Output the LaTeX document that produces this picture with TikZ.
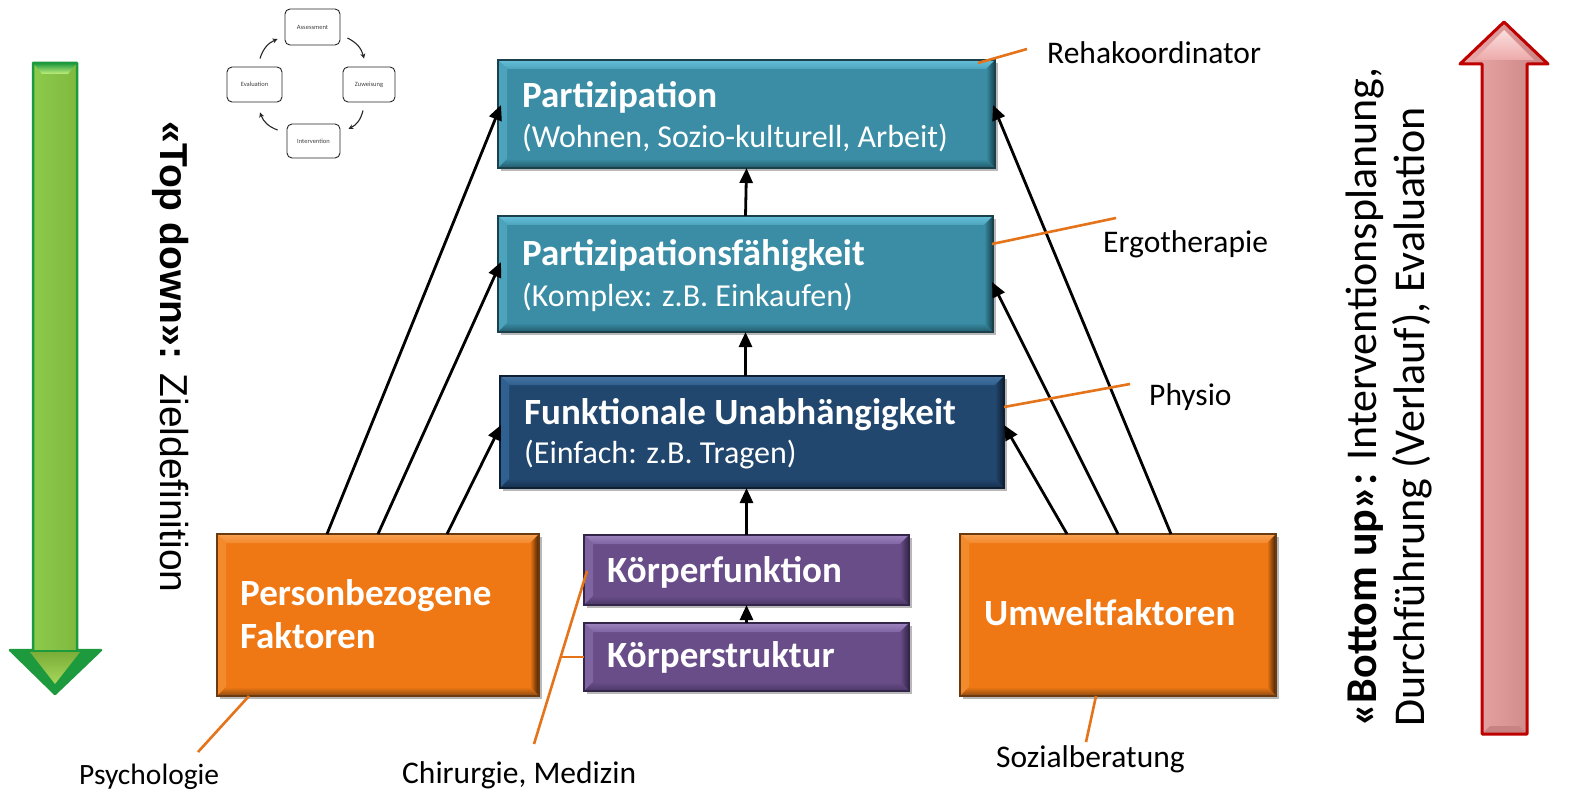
\documentclass[tikz,border=0pt]{standalone}
\usepackage{fontspec}
\setmainfont{Carlito}
\newfontfamily\arialfont{Liberation Sans}
\usetikzlibrary{arrows.meta,calc}

% box colours: face, top bevel, left bevel, right bevel, bottom bevel, outline
\definecolor{tealface}{HTML}{3A8DA5}\definecolor{tealtop}{HTML}{66C0DA}
\definecolor{tealleft}{HTML}{4CA3BC}\definecolor{tealright}{HTML}{17404D}
\definecolor{tealbot}{HTML}{215968}\definecolor{tealline}{HTML}{1B3F4B}
\definecolor{navyface}{HTML}{22476E}\definecolor{navytop}{HTML}{4674A3}
\definecolor{navyleft}{HTML}{30608F}\definecolor{navyright}{HTML}{0D1E31}
\definecolor{navybot}{HTML}{152F4C}\definecolor{navyline}{HTML}{0E1F33}
\definecolor{purpface}{HTML}{694D89}\definecolor{purptop}{HTML}{9D84BE}
\definecolor{purpleft}{HTML}{7F64A2}\definecolor{purpright}{HTML}{33254A}
\definecolor{purpbot}{HTML}{4A3766}\definecolor{purpline}{HTML}{33264A}
\definecolor{orngface}{HTML}{F07814}\definecolor{orngtop}{HTML}{F9A050}
\definecolor{orngleft}{HTML}{F38A2C}\definecolor{orngright}{HTML}{3E1F06}
\definecolor{orngbot}{HTML}{8A4A10}\definecolor{orngline}{HTML}{6A3A10}
\definecolor{leadc}{HTML}{E5731A}
% block arrow colours
\definecolor{gdark}{HTML}{1E9A3E}\definecolor{gleft}{HTML}{92D552}
\definecolor{gmid}{HTML}{C4EF7C}\definecolor{gright}{HTML}{7AAE38}
\definecolor{ghead}{HTML}{A8D65A}
\definecolor{rdark}{HTML}{BE0000}\definecolor{rleft}{HTML}{EDAAAA}
\definecolor{rmid}{HTML}{F8C8C8}\definecolor{rright}{HTML}{C98282}

\newcommand\ttlfont{\bfseries\fontsize{37}{44}\selectfont}
\newcommand\subtfont{\fontsize{32}{36}\selectfont}
\newcommand\lblfont{\fontsize{31.5}{36}\selectfont}

\tikzset{
  boxnode/.style={rectangle, inner sep=0pt, outer sep=0pt, anchor=north west},
  conn/.style={line width=2.8pt, black, -{Triangle[length=15pt,width=13pt]}},
  leader/.style={line width=2.6pt, leadc},
  lbl/.style={font=\lblfont, inner sep=0pt, anchor=west, text=black},
  ttl/.style={font=\ttlfont, text=white, inner sep=0pt, anchor=base west},
  subt/.style={font=\subtfont, text=white, inner sep=0pt, anchor=base west},
  cycbox/.style={draw=black!85, line width=0.9pt, rounded corners=5pt,
    inner sep=0pt, font=\fontsize{6.5}{7}\selectfont, text=black!75},
  cycarr/.style={line width=1.1pt, black!85, -{Stealth[length=5pt,width=5pt]}, bend left=25}
}

% bevelled box: name, x, y (top left), width, height, colour prefix
\newcommand\bvbox[6]{%
  \fill[black, opacity=.28] ($(#2,#3)+(3,3)$) rectangle ++(#4,#5);
  \node[boxnode, minimum width=#4, minimum height=#5] (#1) at (#2,#3) {};
  \fill[#6face] (#1.north west) rectangle (#1.south east);
  \shade[top color=#6top, bottom color=#6left] (#1.north west) -- (#1.north east)
     -- ($(#1.north east)+(-9,9)$) -- ($(#1.north west)+(9,9)$) -- cycle;
  \fill[#6left] (#1.north west) -- ($(#1.north west)+(9,9)$)
     -- ($(#1.south west)+(9,-9)$) -- (#1.south west) -- cycle;
  \shade[left color=#6face, right color=#6right] (#1.north east) -- ($(#1.north east)+(-9,9)$)
     -- ($(#1.south east)+(-9,-9)$) -- (#1.south east) -- cycle;
  \shade[top color=#6face, bottom color=#6bot] (#1.south west) -- ($(#1.south west)+(9,-9)$)
     -- ($(#1.south east)+(-9,-9)$) -- (#1.south east) -- cycle;
  \draw[#6line, line width=1.2pt] (#1.north west) rectangle (#1.south east);
}

\begin{document}
\begin{tikzpicture}[x=1pt, y=-1pt]
\useasboundingbox[fill=white] (0,0) rectangle (1594,791);

% ---- vertical block arrows ----
\shade[left color=gleft, middle color=gmid, right color=gright]
  (33,63) -- (77,63) -- (77,650) -- (101,650) -- (55,694) -- (10,650) -- (33,650) -- cycle;
\fill[gdark] (10,650) -- (101,650) -- (55,694) -- cycle;
\shade[top color=gright, bottom color=ghead] (30,652) -- (80,652) -- (55,684) -- cycle;
\shade[top color=gdark, bottom color=gmid] (33,63) -- (77,63) -- (68,74) -- (42,74) -- cycle;
\draw[gdark, line width=2.5pt, line join=round]
  (33,63) -- (77,63) -- (77,650) -- (101,650) -- (55,694) -- (10,650) -- (33,650) -- cycle;

\shade[left color=rleft, middle color=rmid, right color=rright]
  (1482,734) -- (1527,734) -- (1527,64) -- (1548,64) -- (1504,22) -- (1460,64) -- (1482,64) -- cycle;
\shade[top color=rmid!60!white, bottom color=rleft] (1504,30) -- (1534,60) -- (1474,60) -- cycle;
\fill[rright] (1482,734) -- (1527,734) -- (1519,726) -- (1490,726) -- cycle;
\draw[rdark, line width=3pt, line join=round]
  (1482,734) -- (1527,734) -- (1527,64) -- (1548,64) -- (1504,22) -- (1460,64) -- (1482,64) -- cycle;

% ---- small cycle ----
\node[cycbox, minimum width=55pt, minimum height=36pt] (ass) at (312.5,27) {Assessment};
\node[cycbox, minimum width=52pt, minimum height=35pt] (zuw) at (369,84.5) {Zuweisung};
\node[cycbox, minimum width=53pt, minimum height=34pt] (int) at (313.5,141) {Intervention};
\node[cycbox, minimum width=55pt, minimum height=35pt] (eva) at (254.5,84.5) {Evaluation};
\draw[cycarr] ($(ass.east)+(7,11)$) to ($(zuw.north)+(-5,-8)$);
\draw[cycarr] ($(zuw.south)+(-6,8)$) to ($(int.east)+(8,-12)$);
\draw[cycarr] ($(int.west)+(-9,-11)$) to ($(eva.south)+(5.5,10)$);
\draw[cycarr] ($(eva.north)+(5.5,-8)$) to ($(ass.west)+(-7,12)$);

% ---- boxes ----
\bvbox{part}{498}{60}{497}{108}{teal}
\bvbox{pf}{498}{216}{495}{116}{teal}
\bvbox{fu}{500}{376}{504}{112}{navy}
\bvbox{kf}{584}{535}{325}{70}{purp}
\bvbox{ks}{584}{623}{325}{68}{purp}
\bvbox{pers}{217}{534}{322}{162}{orng}
\bvbox{umw}{960}{534}{316}{162}{orng}

\node[ttl] (part-t) at ($(part.north west)+(24,48)$) {Partizipation};
\node[subt] (part-s) at ($(part.north west)+(24,88)$) {(Wohnen, Sozio-kulturell, Arbeit)};
\node[ttl] (pf-t) at ($(pf.north west)+(24,50)$) {Partizipationsfähigkeit};
\node[subt] (pf-s) at ($(pf.north west)+(24,90)$) {(Komplex: z.B. Einkaufen)};
\node[ttl] (fu-t) at ($(fu.north west)+(24,48)$) {Funktionale Unabhängigkeit};
\node[subt] (fu-s) at ($(fu.north west)+(24,87)$) {(Einfach: z.B. Tragen)};
\node[ttl] (kf-t) at ($(kf.north west)+(23,47)$) {Körperfunktion};
\node[ttl] (ks-t) at ($(ks.north west)+(23,44)$) {Körperstruktur};
\node[ttl] (pers-t1) at ($(pers.north west)+(23,71)$) {Personbezogene};
\node[ttl] (pers-t2) at ($(pers.north west)+(23,114)$) {Faktoren};
\node[ttl] (umw-t) at ($(umw.north west)+(24,91)$) {Umweltfaktoren};

% ---- connectors ----
\draw[conn] (pf.north) -- (part.south);
\draw[conn] (fu.north -| pf.south) -- (pf.south);
\draw[conn] (kf.north) -- (kf.north |- fu.south);
\draw[conn] (ks.north) -- (kf.south);
\draw[conn] ($(pers.north west)+(110,0)$) -- ($(part.west)+(3,-9)$);
\draw[conn] ($(pers.north west)+(161,0)$) -- ($(pf.west)+(3,-12)$);
\draw[conn] ($(pers.north west)+(230,0)$) -- ($(fu.west)+(1,-7)$);
\draw[conn] ($(umw.north west)+(107,0)$) -- ($(fu.east)+(0,-7)$);
\draw[conn] ($(umw.north west)+(158,0)$) -- ($(pf.east)+(-1,8)$);
\draw[conn] ($(umw.north west)+(211,0)$) -- ($(part.east)+(-2,-9)$);

% ---- professions ----
\node[lbl] (reha) at (1047,53) {Rehakoordinator};
\node[lbl] (ergo) at (1103,244) {Ergotherapie};
\node[lbl] (phys) at (1149,397) {Physio};
\node[lbl, font=\fontsize{29.5}{34}\selectfont] (psy) at (79,777) {Psychologie};
\node[lbl] (chir) at (402,775) {Chirurgie, Medizin};
\node[lbl] (soz) at (996,759) {Sozialberatung};

\draw[leader] ($(part.north east)+(-17,3)$) -- ($(reha.west)+(-20,-4)$);
\draw[leader] ($(pf.north east)+(-1,28)$) -- ($(ergo.west)+(13,-26)$);
\draw[leader] ($(fu.north east)+(0,31)$) -- ($(phys.west)+(-19,-13)$);
\draw[leader] ($(pers.south west)+(32,0)$) -- ($(psy.west)+(119,-25)$);
\draw[leader] ($(kf.west)+(3,1)$) -- ($(chir.west)+(132,-31)$);
\draw[leader] (ks.west) -- ++(-23,0);
\draw[leader] ($(umw.south)+(-22,0)$) -- ($(soz.west)+(90,-17)$);

% ---- side captions ----
\node[rotate=-90, inner sep=0pt, font=\arialfont\fontsize{39}{44}\selectfont] (td) at (171,357)
  {\textbf{«Top down»:} Zieldefinition};
\node[rotate=90, anchor=west, align=left, inner sep=0pt, font=\fontsize{44}{48}\selectfont] (bu) at (1389,727)
  {\textbf{«Bottom up»:} Interventionsplanung,\\Durchführung (Verlauf), Evaluation};
\end{tikzpicture}
\end{document}
